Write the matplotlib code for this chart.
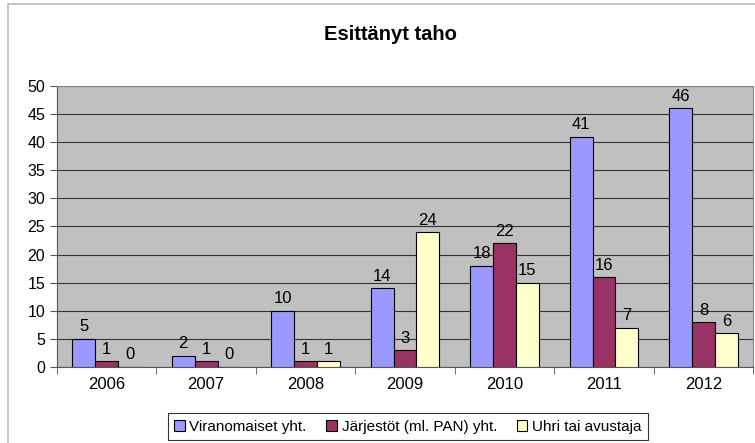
import numpy as np
import matplotlib.pyplot as plt
from matplotlib.patches import Rectangle

plt.rcParams['font.family'] = ['Liberation Sans', 'DejaVu Sans']

years = ['2006', '2007', '2008', '2009', '2010', '2011', '2012']
viranomaiset = [5, 2, 10, 14, 18, 41, 46]
jarjestot = [1, 1, 1, 3, 22, 16, 8]
uhri = [0, 0, 1, 24, 15, 7, 6]
series_names = ['Viranomaiset yht.', 'Järjestöt (ml. PAN) yht.', 'Uhri tai avustaja']
colors = ['#9999FF', '#993366', '#FFFFCC']

fig = plt.figure(figsize=(7.55, 4.43), dpi=100)
ax = fig.add_axes([0.0755, 0.1716, 0.922, 0.6344])
ax.set_facecolor('#C0C0C0')

x = np.arange(len(years))
w = 0.23
for i, (vals, name, c) in enumerate(zip([viranomaiset, jarjestot, uhri], series_names, colors)):
    pos = x + (i - 1) * w
    ax.bar(pos, vals, w, color=c, edgecolor='black', linewidth=0.8, label=name, zorder=3)
    for p, v in zip(pos, vals):
        ax.text(p, v + 0.8, str(v), ha='center', va='bottom', fontsize=12, zorder=4)

ax.set_xlim(-0.5, len(years) - 0.5)
ax.set_ylim(0, 50)
ax.set_yticks(np.arange(0, 51, 5))
ax.set_xticks(x)
ax.set_xticklabels(years)
ax.set_xticks(np.arange(-0.5, len(years), 1), minor=True)
ax.tick_params(axis='x', which='major', length=0, pad=7, labelsize=12)
ax.tick_params(axis='x', which='minor', length=5, color='#555555')
ax.tick_params(axis='y', length=5, color='#555555', labelsize=11.5)
ax.yaxis.grid(True, color='#333333', linewidth=0.8, zorder=0)
for s in ['top', 'right']:
    ax.spines[s].set_color('#888888')
for s in ['left', 'bottom']:
    ax.spines[s].set_color('#555555')

fig.text(0.517, 0.923, 'Esittänyt taho', ha='center', va='center', fontsize=14.5, fontweight='bold')

leg = fig.legend(loc='center', bbox_to_anchor=(0.54, 0.037), ncol=3, fontsize=11,
                 frameon=True, fancybox=False, edgecolor='black', handlelength=0.7,
                 handleheight=0.7, handletextpad=0.3, columnspacing=1.3, borderpad=0.4)
leg.get_frame().set_linewidth(0.8)

fig.patches.append(Rectangle((0.011, -0.05), 1.1, 1.04, transform=fig.transFigure,
                             fill=False, edgecolor='#BBBBBB', linewidth=1.2))

fig.savefig('out.png', dpi=100)
